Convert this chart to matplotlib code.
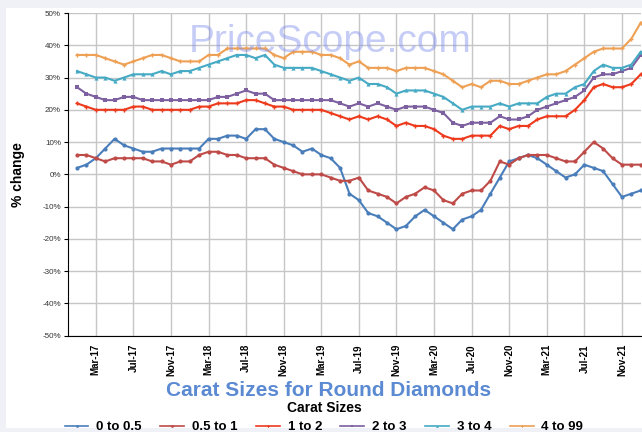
import numpy as np
import matplotlib
matplotlib.use("Agg")
import matplotlib.pyplot as plt
from matplotlib.patches import Rectangle

plt.rcParams['font.family'] = ['Liberation Sans', 'DejaVu Sans']

# monthly points, Jan-17 .. Jan-22
months = np.arange(61)
tick_pos = [2, 6, 10, 14, 18, 22, 26, 30, 34, 38, 42, 46, 50, 54, 58]
tick_labels = ['Mar-17', 'Jul-17', 'Nov-17', 'Mar-18', 'Jul-18', 'Nov-18', 'Mar-19',
               'Jul-19', 'Nov-19', 'Mar-20', 'Jul-20', 'Nov-20', 'Mar-21', 'Jul-21', 'Nov-21']

c0_05 = [2, 3, 5, 8, 11, 9, 8, 7, 7, 8, 8, 8, 8, 8, 11, 11,
         12, 12, 11, 14, 14, 11, 10, 9, 7,
         8, 6, 5, 2, -6, -8, -12, -13, -15, -17, -16, -13,
         -11, -13, -15, -17, -14, -13, -11, -6, -1, 4, 5,
         6, 5, 3, 1, -1, 0, 3, 2, 1, -3, -7, -6, -5]
c05_1 = [6, 6, 5, 4, 5, 5, 5, 5, 4, 4, 3, 4, 4, 6, 7, 7,
         6, 6, 5, 5, 5, 3, 2, 1, 0,
         0, 0, -1, -2, -2, -1, -5, -6, -7, -9, -7, -6,
         -4, -5, -8, -9, -6, -5, -5, -2, 4, 3, 5,
         6, 6, 6, 5, 4, 4, 7, 10, 8, 5, 3, 3, 3]
c1_2 = [22, 21, 20, 20, 20, 20, 21, 21, 20, 20, 20, 20, 20, 21, 21, 22,
        22, 22, 23, 23, 22, 21, 21, 20, 20,
        20, 20, 19, 18, 17, 18, 17, 18, 17, 15, 16, 15,
        15, 14, 12, 11, 11, 12, 12, 12, 15, 14, 15, 15,
        17, 18, 18, 18, 20, 23, 27, 28, 27, 27, 28, 31]
c2_3 = [27, 25, 24, 23, 23, 24, 24, 23, 23, 23, 23, 23, 23, 23, 23, 24,
        24, 25, 26, 25, 25, 23, 23, 23, 23,
        23, 23, 23, 22, 21, 22, 21, 22, 21, 20, 21, 21,
        21, 20, 19, 16, 15, 16, 16, 16, 18, 17, 17, 18,
        20, 21, 22, 23, 24, 26, 30, 31, 31, 32, 33, 37]
c3_4 = [32, 31, 30, 30, 29, 30, 31, 31, 31, 32, 31, 32, 32, 33, 34, 35,
        36, 37, 37, 36, 37, 34, 33, 33, 33,
        33, 32, 31, 30, 29, 30, 28, 28, 27, 25, 26, 26,
        26, 25, 24, 22, 20, 21, 21, 21, 22, 21, 22, 22,
        22, 24, 25, 25, 27, 28, 32, 34, 33, 33, 34, 38]
c4_99 = [37, 37, 37, 36, 35, 34, 35, 36, 37, 37, 36, 35, 35, 35, 37, 37,
         39, 39, 39, 39, 39, 37, 36, 38, 38,
         38, 37, 37, 36, 34, 35, 33, 33, 33, 32, 33, 33,
         33, 32, 31, 29, 27, 28, 27, 29, 29, 28, 28, 29,
         30, 31, 31, 32, 34, 36, 38, 39, 39, 39, 42, 47]

series = [c0_05, c05_1, c1_2, c2_3, c3_4, c4_99]
names = ['0 to 0.5', '0.5 to 1', '1 to 2', '2 to 3', '3 to 4', '4 to 99']
colors = ['#4a7ebb', '#be4b48', '#ee3a1c', '#7d60a0', '#46aac4', '#eea055']
markers = ['o', 'o', 'P', 's', '^', 'P']

fig = plt.figure(figsize=(6.42, 4.32), dpi=100)
fig.patch.set_facecolor('#eff1f6')
fig.add_artist(Rectangle((6 / 642, 4 / 432), 1, 1 - 12 / 432, transform=fig.transFigure,
                         facecolor='white', edgecolor='none', zorder=0))

ax = fig.add_axes([68 / 642, 1 - 335.7 / 432, 573 / 642, (335.7 - 13) / 432])
ax.set_facecolor('white')

for vals, name, col, mk in zip(series, names, colors, markers):
    ax.plot(months, vals, color=col, lw=1.5, marker=mk, ms=3, mew=0,
            label=name, clip_on=False, zorder=3)

ax.set_xlim(-0.96, 60.03)
ax.set_ylim(-50, 50)
ax.set_yticks(np.arange(-50, 51, 10))
ax.set_yticklabels([f'{v}%' for v in range(-50, 51, 10)], fontsize=5.8, color='#333333')
ax.set_xticks(tick_pos)
ax.set_xticklabels(tick_labels, rotation=90, fontsize=7, fontweight='bold')
ax.set_xticks([18, 42], minor=True)
ax.tick_params(axis='x', which='major', length=0, pad=6)
ax.tick_params(axis='x', which='minor', length=4, width=1, direction='inout')
ax.tick_params(axis='y', length=3, pad=2)
ax.grid(True, color='#c6c6c6', lw=1)
ax.set_axisbelow(True)
for s in ['top', 'right']:
    ax.spines[s].set_visible(False)
ax.spines['left'].set_color('black')
ax.spines['bottom'].set_color('black')

ax.set_ylabel('% change', fontsize=10, fontweight='bold')
ax.yaxis.set_label_coords(-0.075, 0.5)

fig.text(329 / 642, 1 - 391 / 432, 'Carat Sizes for Round Diamonds', ha='center',
         va='center', fontsize=15, fontweight='bold', color='#5b8ad2')

leg = fig.legend(loc='center', bbox_to_anchor=(324 / 642, 1 - 417 / 432), ncol=6,
                 frameon=False, title='Carat Sizes', handlelength=1.8,
                 handletextpad=0.6, columnspacing=1.4, borderpad=0,
                 prop={'weight': 'bold', 'size': 9.5},
                 title_fontproperties={'weight': 'bold', 'size': 10})
for h in leg.legend_handles:
    h.set_linewidth(1.2)
    h.set_markersize(2)

fig.text(330 / 642, 1 - 52 / 432, 'PriceScope.com', ha='center', va='baseline',
         fontsize=28, color=(0.50, 0.56, 0.93), alpha=0.45, zorder=10)

fig.savefig('out.png', dpi=100, facecolor=fig.get_facecolor())
